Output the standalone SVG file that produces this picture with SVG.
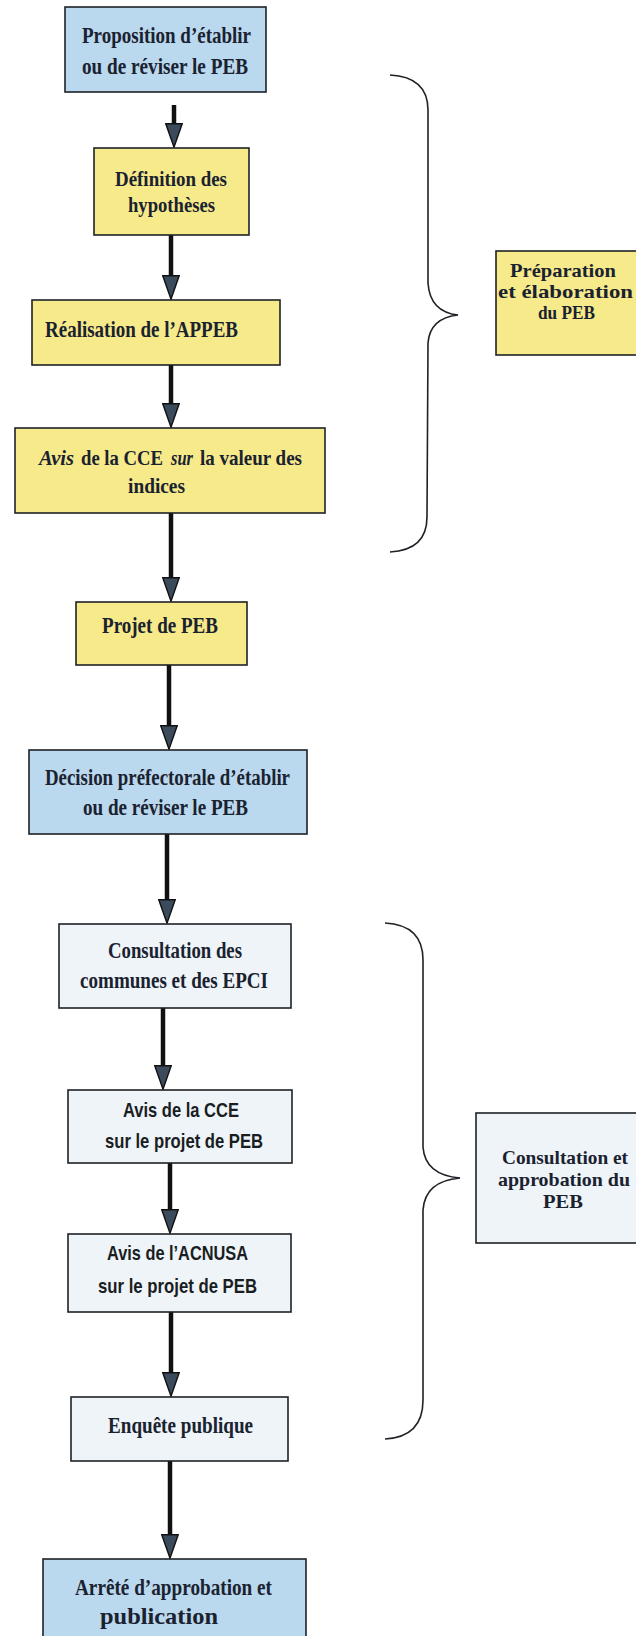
<svg xmlns="http://www.w3.org/2000/svg" width="636" height="1636" viewBox="0 0 636 1636">
<style>
.box{stroke:#1e2226;stroke-width:1.6}
.blue{fill:#bad8ee}
.yellow{fill:#f7ea8a}
.pale{fill:#eef4f8}
.t{font-family:"Liberation Serif","Times New Roman",serif;font-weight:bold;font-size:24px;fill:#1a2230}
.t2{font-family:"Liberation Serif","Times New Roman",serif;font-weight:bold;font-size:22px;fill:#1a2230}
.it{font-style:italic}
.s{font-family:"Liberation Sans",Arial,sans-serif;font-weight:bold;font-size:21px;fill:#1a1d22}
.lt{font-family:"Liberation Serif","Times New Roman",serif;font-weight:bold;font-size:19px;fill:#1a2230}
.conn{stroke:#111;stroke-width:4.5;fill:none;marker-end:url(#ah)}
.brace{stroke:#1e2226;stroke-width:1.6;fill:none}
</style>
<defs>
<marker id="ah" markerUnits="userSpaceOnUse" viewBox="0 0 25 18" markerWidth="25" markerHeight="18" refX="0" refY="9" orient="auto">
<path d="M0.8,0.8 L24.2,9 L0.8,17.2 Z" fill="#3b4b5c" stroke="#111" stroke-width="1.4"/>
</marker>
</defs>
<rect width="636" height="1636" fill="#ffffff"/>

<g id="connectors">
<line class="conn" x1="174" y1="105" x2="174" y2="123"/>
<line class="conn" x1="171" y1="235" x2="171" y2="275"/>
<line class="conn" x1="171" y1="365" x2="171" y2="403"/>
<line class="conn" x1="171" y1="513" x2="171" y2="577"/>
<line class="conn" x1="169" y1="665" x2="169" y2="725"/>
<line class="conn" x1="167" y1="834" x2="167" y2="899"/>
<line class="conn" x1="163" y1="1008" x2="163" y2="1065"/>
<line class="conn" x1="170" y1="1163" x2="170" y2="1209"/>
<line class="conn" x1="171" y1="1312" x2="171" y2="1372"/>
<line class="conn" x1="170" y1="1461" x2="170" y2="1534"/>
</g>

<g id="n1">
<rect class="box blue" x="65" y="7" width="201" height="85"/>
<text class="t" x="82" y="43" textLength="169" lengthAdjust="spacingAndGlyphs">Proposition d’établir</text>
<text class="t" x="82" y="74" textLength="166" lengthAdjust="spacingAndGlyphs">ou de réviser le PEB</text>
</g>

<g id="n2">
<rect class="box yellow" x="94" y="148" width="155" height="87"/>
<text class="t2" x="115" y="186" textLength="112" lengthAdjust="spacingAndGlyphs">Définition des</text>
<text class="t2" x="128" y="212" textLength="87" lengthAdjust="spacingAndGlyphs">hypothèses</text>
</g>

<g id="n3">
<rect class="box yellow" x="32" y="300" width="248" height="65"/>
<text class="t" x="45" y="337" textLength="193" lengthAdjust="spacingAndGlyphs">Réalisation de l’APPEB</text>
</g>

<g id="n4">
<rect class="box yellow" x="15" y="428" width="310" height="85"/>
<text class="t2 it" x="39" y="465" textLength="35" lengthAdjust="spacingAndGlyphs">Avis</text>
<text class="t2" x="81" y="465" textLength="82" lengthAdjust="spacingAndGlyphs">de la CCE</text>
<text class="t2 it" x="171" y="465" textLength="22" lengthAdjust="spacingAndGlyphs">sur</text>
<text class="t2" x="200" y="465" textLength="102" lengthAdjust="spacingAndGlyphs">la valeur des</text>
<text class="t2" x="128" y="493" textLength="57" lengthAdjust="spacingAndGlyphs">indices</text>
</g>

<g id="n5">
<rect class="box yellow" x="76" y="602" width="171" height="63"/>
<text class="t" x="102" y="633" textLength="116" lengthAdjust="spacingAndGlyphs">Projet de PEB</text>
</g>

<g id="n6">
<rect class="box blue" x="29" y="750" width="278" height="84"/>
<text class="t" x="45" y="785" textLength="245" lengthAdjust="spacingAndGlyphs">Décision préfectorale d’établir</text>
<text class="t" x="83" y="815" textLength="165" lengthAdjust="spacingAndGlyphs">ou de réviser le PEB</text>
</g>

<g id="n7">
<rect class="box pale" x="59" y="924" width="232" height="84"/>
<text class="t" x="108" y="958" textLength="134" lengthAdjust="spacingAndGlyphs">Consultation des</text>
<text class="t" x="80" y="988" textLength="188" lengthAdjust="spacingAndGlyphs">communes et des EPCI</text>
</g>

<g id="n8">
<rect class="box pale" x="68" y="1090" width="224" height="73"/>
<text class="s" x="123" y="1117" textLength="116" lengthAdjust="spacingAndGlyphs">Avis de la CCE</text>
<text class="s" x="105" y="1148" textLength="158" lengthAdjust="spacingAndGlyphs">sur le projet de PEB</text>
</g>

<g id="n9">
<rect class="box pale" x="68" y="1234" width="223" height="78"/>
<text class="s" x="107" y="1260" textLength="141" lengthAdjust="spacingAndGlyphs">Avis de l’ACNUSA</text>
<text class="s" x="98" y="1293" textLength="159" lengthAdjust="spacingAndGlyphs">sur le projet de PEB</text>
</g>

<g id="n10">
<rect class="box pale" x="71" y="1397" width="217" height="64"/>
<text class="t" x="108" y="1433" textLength="145" lengthAdjust="spacingAndGlyphs">Enquête publique</text>
</g>

<g id="n11">
<rect class="box blue" x="43" y="1559" width="263" height="90"/>
<text class="t" x="75" y="1595" textLength="197" lengthAdjust="spacingAndGlyphs">Arrêté d’approbation et</text>
<text class="t" x="100" y="1624" textLength="118" lengthAdjust="spacingAndGlyphs">publication</text>
</g>

<g id="brace1">
<path class="brace" d="M390,75 Q428,77 428,110 L428,283 Q430,312 458,315 Q430,318 428,343 L427,517 Q427,550 390,552"/>
</g>
<g id="label1">
<rect class="box yellow" x="496" y="251" width="145" height="104"/>
<text class="lt" x="510" y="277" textLength="106" lengthAdjust="spacingAndGlyphs">Préparation</text>
<text class="lt" x="498" y="298" textLength="135" lengthAdjust="spacingAndGlyphs">et élaboration</text>
<text class="lt" x="538" y="319" textLength="57" lengthAdjust="spacingAndGlyphs">du PEB</text>
</g>

<g id="brace2">
<path class="brace" d="M385,923 Q423,925 423,960 L423,1147 Q425,1175 460,1178 Q425,1181 423,1210 L423,1400 Q423,1437 385,1439"/>
</g>
<g id="label2">
<rect class="box pale" x="476" y="1113" width="165" height="130"/>
<text class="lt" x="502" y="1164" textLength="126" lengthAdjust="spacingAndGlyphs">Consultation et</text>
<text class="lt" x="498" y="1186" textLength="132" lengthAdjust="spacingAndGlyphs">approbation du</text>
<text class="lt" x="543" y="1208" textLength="40" lengthAdjust="spacingAndGlyphs">PEB</text>
</g>
</svg>
